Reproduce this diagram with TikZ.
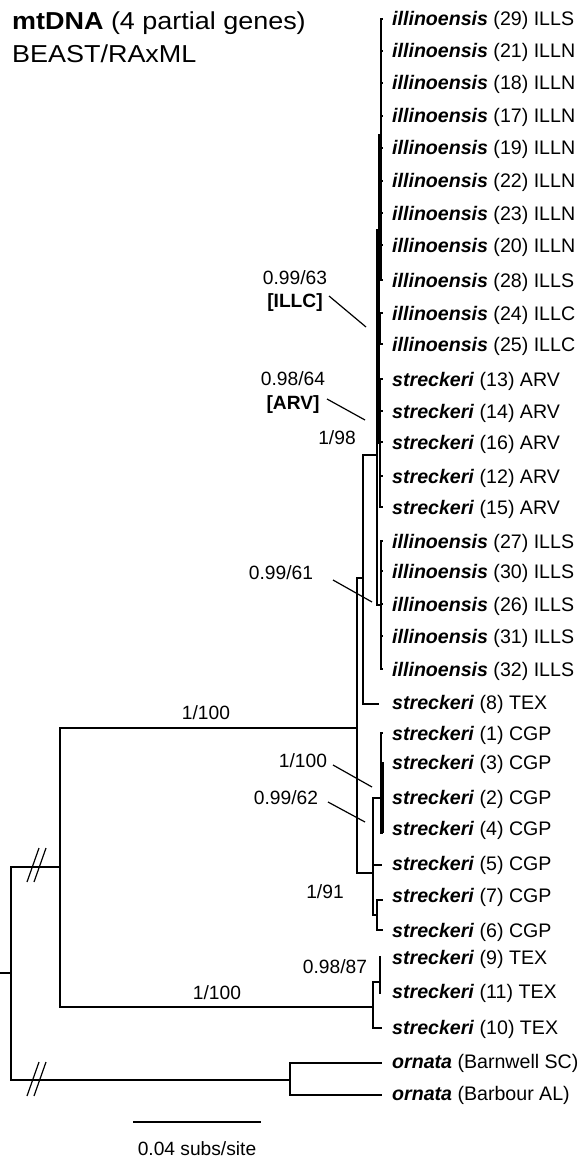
\documentclass[tikz,border=0pt]{standalone}
\usepackage{fontspec}
\setmainfont{Liberation Sans}
\newfontfamily\titlefont[FakeStretch=1.1]{Liberation Sans}
\newcommand\spn[1]{\textbf{\textit{#1}}}
\newcommand\tipl[4]{\node[lab] (L#1) at (392,#2+7) {\spn{#3} #4};}
\begin{document}
\begin{tikzpicture}[x=1pt,y=-1pt,
  br/.style={line width=1.7pt},
  cl/.style={line width=2.6pt},
  ld/.style={line width=1.2pt},
  lab/.style={anchor=base west, inner sep=0pt, font=\fontsize{19.6}{22}\selectfont},
  sup/.style={anchor=base, inner sep=0pt, font=\fontsize{19.2}{22}\selectfont},
  ttl/.style={anchor=base west, inner sep=0pt, font=\titlefont\fontsize{24.5}{28}\selectfont}]
\useasboundingbox (0,0) rectangle (584,1161);

% title
\node[ttl] (title1) at (12,30) {\textbf{mtDNA} (4 partial genes)};
\node[ttl] (title2) at (12,63) {BEAST/RAxML};

% tip labels
\tipl{29}{19}{illinoensis}{(29) ILLS}
\tipl{21}{51}{illinoensis}{(21) ILLN}
\tipl{18}{83}{illinoensis}{(18) ILLN}
\tipl{17}{116}{illinoensis}{(17) ILLN}
\tipl{19}{148}{illinoensis}{(19) ILLN}
\tipl{22}{181}{illinoensis}{(22) ILLN}
\tipl{23}{213}{illinoensis}{(23) ILLN}
\tipl{20}{245}{illinoensis}{(20) ILLN}
\tipl{28}{280}{illinoensis}{(28) ILLS}
\tipl{24}{313}{illinoensis}{(24) ILLC}
\tipl{25}{344}{illinoensis}{(25) ILLC}
\tipl{13}{379}{streckeri}{(13) ARV}
\tipl{14}{411}{streckeri}{(14) ARV}
\tipl{16}{442}{streckeri}{(16) ARV}
\tipl{12}{476}{streckeri}{(12) ARV}
\tipl{15}{507}{streckeri}{(15) ARV}
\tipl{27}{541}{illinoensis}{(27) ILLS}
\tipl{30}{571}{illinoensis}{(30) ILLS}
\tipl{26}{604}{illinoensis}{(26) ILLS}
\tipl{31}{636}{illinoensis}{(31) ILLS}
\tipl{32}{669}{illinoensis}{(32) ILLS}
\tipl{8}{702}{streckeri}{(8) TEX}
\tipl{1}{733}{streckeri}{(1) CGP}
\tipl{3}{762}{streckeri}{(3) CGP}
\tipl{2}{797}{streckeri}{(2) CGP}
\tipl{4}{828}{streckeri}{(4) CGP}
\tipl{5}{863}{streckeri}{(5) CGP}
\tipl{7}{895}{streckeri}{(7) CGP}
\tipl{6}{930}{streckeri}{(6) CGP}
\tipl{9}{957}{streckeri}{(9) TEX}
\tipl{11}{991}{streckeri}{(11) TEX}
\tipl{10}{1027}{streckeri}{(10) TEX}
\tipl{b1}{1061}{ornata}{(Barnwell SC)}
\tipl{b2}{1093}{ornata}{(Barbour AL)}

% tip ends
\foreach \n/\y in {29/19,21/51,18/83,17/116,19/148,22/181,23/213,20/245,28/280,
  24/313,25/344,13/379,14/411,16/442,12/476,15/507,27/541,30/571,26/604,31/636,32/669,
  1/733,3/762,2/797,4/828,7/900,6/930}
  \coordinate (t\n) at (383,\y);
\coordinate (t8) at (379,704);
\coordinate (t5) at (382,865);
\coordinate (t9) at (381,957);
\coordinate (t11) at (381,993);
\coordinate (t10) at (382,1028);
\coordinate (tb1) at (382,1063);
\coordinate (tb2) at (382,1095);

% internal nodes
\coordinate (rs) at (0,973);
\coordinate (root) at (11,973);
\coordinate (I) at (60,867);
\coordinate (O) at (290,1080);
\coordinate (A) at (357,728);
\coordinate (T) at (373,1007);
\coordinate (B) at (363,578);
\coordinate (C) at (373,873);
\coordinate (D) at (377,455);
\coordinate (U) at (379,230);
\coordinate (N1) at (381,135);
\coordinate (C1) at (380,329);
\coordinate (R1) at (380,443);
\coordinate (L1) at (381,605);
\coordinate (E) at (381,798);
\coordinate (G) at (383,833);
\coordinate (F) at (377,915);
\coordinate (H) at (380,982);

% branches
\draw[br] (rs) -- (root);
\draw[br] (root) |- (I);
\draw[br] (root) |- (O);
\draw[br] (I) |- (A);
\draw[br] (I) |- (T);
\draw[br] (O) |- (tb1);
\draw[br] (O) |- (tb2);
\draw[br] (A) |- (B);
\draw[br] (A) |- (C);
\draw[br] (B) |- (D);
\draw[br] (B) |- (t8);
\draw[cl] (D) |- (U);
\draw[br] (D) |- (L1);
\draw[cl] (U) |- (N1);
\draw[cl] (U) |- (C1);
\draw[cl] (U) |- (R1);
% clade bars
\draw[cl] (N1 |- t29) -- (N1 |- t28);
\draw[cl] (C1 |- t24) -- (C1 |- t25);
\draw[cl] (R1 |- t13) -- (R1 |- t15);
\draw[br] (L1 |- t27) -- (L1 |- t32);
\foreach \n in {29,21,18,17,19,22,23,20,28} \draw[br] (N1) |- (t\n);
\foreach \n in {24,25} \draw[br] (C1) |- (t\n);
\foreach \n in {13,14,16,12,15} \draw[br] (R1) |- (t\n);
\foreach \n in {27,30,26,31,32} \draw[br] (L1) |- (t\n);
\draw[br] (C) |- (E);
\draw[br] (C) |- (t5);
\draw[br] (C) |- (F);
\draw[br] (E) |- (t1);
\draw[br] (E) |- (G);
\foreach \n in {3,2,4} \draw[br] (G) |- (t\n);
\draw[br] (F) |- (t7);
\draw[br] (F) |- (t6);
\draw[br] (T) |- (H);
\draw[br] (T) |- (t10);
\draw[br] (H) |- (t9);
\draw[br] (H) |- (t11);

% break marks
\coordinate (k1a) at (27,882); \coordinate (k1b) at (39,848);
\coordinate (k2a) at (34,882); \coordinate (k2b) at (46,848);
\coordinate (k3a) at (27,1096); \coordinate (k3b) at (39,1062);
\coordinate (k4a) at (34,1096); \coordinate (k4b) at (46,1062);
\draw[ld] (k1a) -- (k1b);
\draw[ld] (k2a) -- (k2b);
\draw[ld] (k3a) -- (k3b);
\draw[ld] (k4a) -- (k4b);

% support values
\node[sup] (s1) at (295,284) {0.99/63};
\node[sup] (s1b) at (295,307) {\textbf{[ILLC]}};
\node[sup] (s2) at (293,385) {0.98/64};
\node[sup] (s2b) at (293,409) {\textbf{[ARV]}};
\node[sup] (s3) at (337,444) {1/98};
\node[sup] (s4) at (281,579) {0.99/61};
\node[sup] (s5) at (206,719) {1/100};
\node[sup] (s6) at (303,767) {1/100};
\node[sup] (s7) at (286,804) {0.99/62};
\node[sup] (s8) at (325,898) {1/91};
\node[sup] (s9) at (335,973) {0.98/87};
\node[sup] (s10) at (217,999) {1/100};

% leaders
\coordinate (p1a) at (329,296); \coordinate (p1b) at (366,327);
\coordinate (p2a) at (327,399); \coordinate (p2b) at (365,420);
\coordinate (p3a) at (333,580); \coordinate (p3b) at (372,602);
\coordinate (p4a) at (333,765); \coordinate (p4b) at (372,787);
\coordinate (p5a) at (328,802); \coordinate (p5b) at (365,822);
\draw[ld] (p1a) -- (p1b);
\draw[ld] (p2a) -- (p2b);
\draw[ld] (p3a) -- (p3b);
\draw[ld] (p4a) -- (p4b);
\draw[ld] (p5a) -- (p5b);

% scale bar
\coordinate (sb1) at (133,1122);
\coordinate (sb2) at (261,1122);
\draw[br] (sb1) -- (sb2);
\node[sup] (sbl) at (197,1155) {0.04 subs/site};
\end{tikzpicture}
\end{document}
